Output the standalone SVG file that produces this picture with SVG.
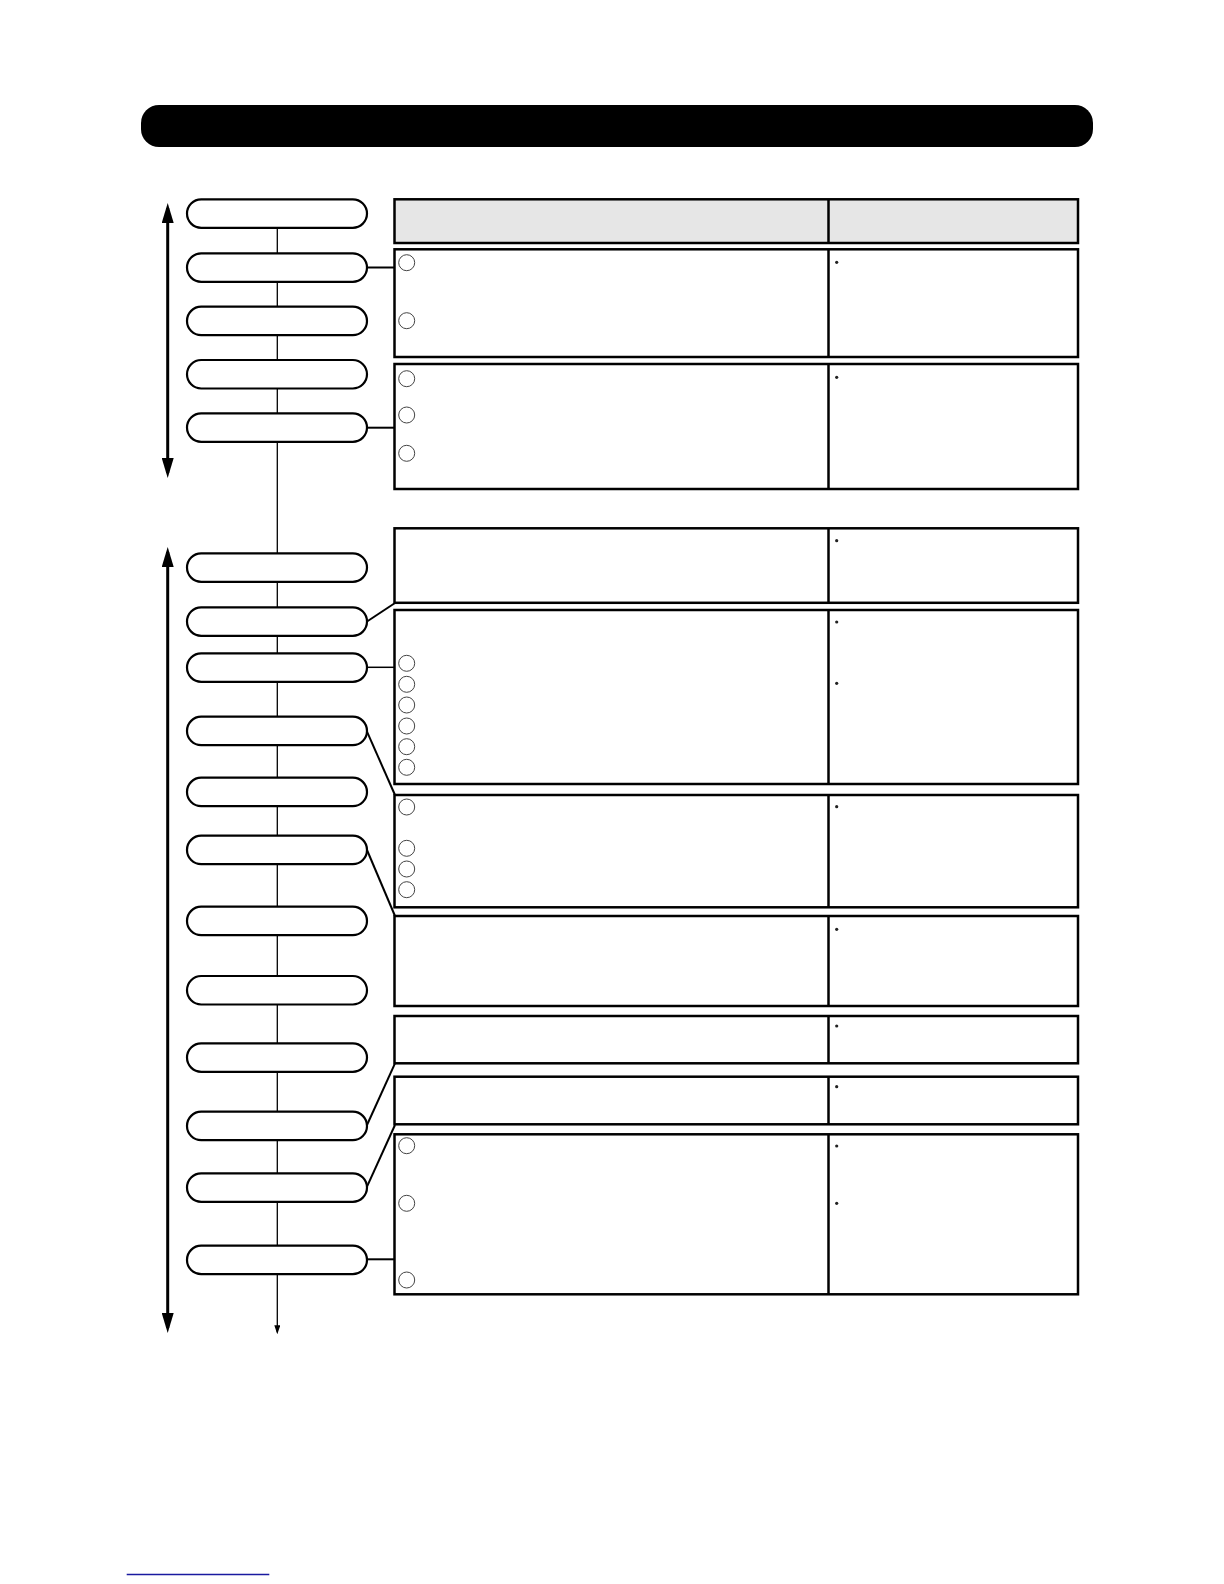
<svg xmlns="http://www.w3.org/2000/svg" width="1224" height="1584" viewBox="0 0 1224 1584">
<style>
.pill{fill:#fff;stroke:#000;stroke-width:2.2}
.box{fill:#fff;stroke:#000;stroke-width:2.5}
.hdr{fill:#e6e6e6;stroke:#000;stroke-width:2.5}
.div{stroke:#000;stroke-width:2.5}
.num{fill:#fff;stroke:#444;stroke-width:1}
.dot{fill:#222}
.flow{stroke:#000;stroke-width:1.3;fill:none}
.span{stroke:#000;stroke-width:3;fill:none}
.link{stroke:#000;stroke-width:2;fill:none}
.thin{stroke:#000;stroke-width:1.5;fill:none}
</style>
<defs>
<marker id="big" viewBox="0 0 20 12" refX="15" refY="6" markerWidth="20" markerHeight="12" markerUnits="userSpaceOnUse" orient="auto-start-reverse"><path d="M0,0 L20,6 L0,12 z" fill="#000"/></marker>
<marker id="small" viewBox="0 0 9 6" refX="7" refY="3" markerWidth="9" markerHeight="6" markerUnits="userSpaceOnUse" orient="auto"><path d="M0,0 L9,3 L0,6 z" fill="#000"/></marker>
</defs>
<rect width="1224" height="1584" fill="#fff"/>
<g id="title"><rect x="141" y="105" width="952" height="42" rx="18" fill="#000"/></g>
<g id="connectors">
<line class="span" x1="167.7" y1="208" x2="167.7" y2="473" marker-start="url(#big)" marker-end="url(#big)"/>
<line class="span" x1="167.7" y1="552" x2="167.7" y2="1328" marker-start="url(#big)" marker-end="url(#big)"/>
<line class="flow" x1="277.3" y1="213" x2="277.3" y2="1332.3" marker-end="url(#small)"/>
<line class="link" x1="367" y1="267.5" x2="394.5" y2="267.5"/>
<line class="link" x1="367" y1="427.7" x2="394.5" y2="427.7"/>
<line class="link" x1="367" y1="621.5" x2="395" y2="603"/>
<line class="thin" x1="367" y1="667.3" x2="394.5" y2="667.3"/>
<line class="link" x1="367" y1="731.7" x2="395" y2="795"/>
<line class="link" x1="367" y1="850" x2="395" y2="916"/>
<line class="link" x1="367" y1="1125" x2="395" y2="1063.3"/>
<line class="link" x1="367" y1="1186.7" x2="395" y2="1125"/>
<line class="link" x1="367" y1="1259.3" x2="394.5" y2="1259.3"/>
</g>
<g id="steps">
<rect id="s1" class="pill" x="187" y="199.3" width="180" height="28.5" rx="14.2"/>
<rect id="s2" class="pill" x="187" y="253.3" width="180" height="28.5" rx="14.2"/>
<rect id="s3" class="pill" x="187" y="306.7" width="180" height="28.5" rx="14.2"/>
<rect id="s4" class="pill" x="187" y="360" width="180" height="28.5" rx="14.2"/>
<rect id="s5" class="pill" x="187" y="413.3" width="180" height="28.5" rx="14.2"/>
<rect id="s6" class="pill" x="187" y="553.3" width="180" height="28.5" rx="14.2"/>
<rect id="s7" class="pill" x="187" y="607.3" width="180" height="28.5" rx="14.2"/>
<rect id="s8" class="pill" x="187" y="653.3" width="180" height="28.5" rx="14.2"/>
<rect id="s9" class="pill" x="187" y="716.7" width="180" height="28.5" rx="14.2"/>
<rect id="s10" class="pill" x="187" y="777.7" width="180" height="28.5" rx="14.2"/>
<rect id="s11" class="pill" x="187" y="835.7" width="180" height="28.5" rx="14.2"/>
<rect id="s12" class="pill" x="187" y="906.7" width="180" height="28.5" rx="14.2"/>
<rect id="s13" class="pill" x="187" y="976" width="180" height="28.5" rx="14.2"/>
<rect id="s14" class="pill" x="187" y="1043.3" width="180" height="28.5" rx="14.2"/>
<rect id="s15" class="pill" x="187" y="1111.7" width="180" height="28.5" rx="14.2"/>
<rect id="s16" class="pill" x="187" y="1173.3" width="180" height="28.5" rx="14.2"/>
<rect id="s17" class="pill" x="187" y="1245.7" width="180" height="28.5" rx="14.2"/>
</g>
<g id="header"><rect class="hdr" x="394.5" y="199.3" width="683.5" height="43.7"/><line class="div" x1="828.5" y1="199.3" x2="828.5" y2="243"/></g>
<g id="row1"><rect class="box" x="394.5" y="249.3" width="683.5" height="107.7"/><line class="div" x1="828.5" y1="249.3" x2="828.5" y2="357"/>
<circle class="num" cx="406.7" cy="262.7" r="8"/><circle class="num" cx="406.7" cy="320.7" r="8"/><circle class="dot" cx="836.7" cy="262.3" r="1.6"/></g>
<g id="row2"><rect class="box" x="394.5" y="364" width="683.5" height="125"/><line class="div" x1="828.5" y1="364" x2="828.5" y2="489"/>
<circle class="num" cx="406.7" cy="378.7" r="8"/><circle class="num" cx="406.7" cy="415" r="8"/><circle class="num" cx="406.7" cy="453.3" r="8"/><circle class="dot" cx="836.7" cy="377.3" r="1.6"/></g>
<g id="rowA"><rect class="box" x="394.5" y="528.3" width="683.5" height="74.5"/><line class="div" x1="828.5" y1="528.3" x2="828.5" y2="602.8"/>
<circle class="dot" cx="836.7" cy="540.7" r="1.6"/></g>
<g id="rowB"><rect class="box" x="394.5" y="610" width="683.5" height="174"/><line class="div" x1="828.5" y1="610" x2="828.5" y2="784"/>
<circle class="num" cx="406.7" cy="663.3" r="8"/><circle class="num" cx="406.7" cy="684.3" r="8"/><circle class="num" cx="406.7" cy="705" r="8"/><circle class="num" cx="406.7" cy="726" r="8"/><circle class="num" cx="406.7" cy="746.7" r="8"/><circle class="num" cx="406.7" cy="767.3" r="8"/>
<circle class="dot" cx="836.7" cy="622" r="1.6"/><circle class="dot" cx="836.7" cy="683.3" r="1.6"/></g>
<g id="rowC"><rect class="box" x="394.5" y="795" width="683.5" height="112.3"/><line class="div" x1="828.5" y1="795" x2="828.5" y2="907.3"/>
<circle class="num" cx="406.7" cy="807" r="8"/><circle class="num" cx="406.7" cy="848.3" r="8"/><circle class="num" cx="406.7" cy="869" r="8"/><circle class="num" cx="406.7" cy="889.7" r="8"/>
<circle class="dot" cx="836.7" cy="806.7" r="1.6"/></g>
<g id="rowD"><rect class="box" x="394.5" y="916" width="683.5" height="90"/><line class="div" x1="828.5" y1="916" x2="828.5" y2="1006"/>
<circle class="dot" cx="836.7" cy="929.3" r="1.6"/></g>
<g id="rowE"><rect class="box" x="394.5" y="1016" width="683.5" height="47.3"/><line class="div" x1="828.5" y1="1016" x2="828.5" y2="1063.3"/>
<circle class="dot" cx="836.7" cy="1026" r="1.6"/></g>
<g id="rowF"><rect class="box" x="394.5" y="1076.7" width="683.5" height="47.6"/><line class="div" x1="828.5" y1="1076.7" x2="828.5" y2="1124.3"/>
<circle class="dot" cx="836.7" cy="1086.7" r="1.6"/></g>
<g id="rowG"><rect class="box" x="394.5" y="1134.3" width="683.5" height="160"/><line class="div" x1="828.5" y1="1134.3" x2="828.5" y2="1294.3"/>
<circle class="num" cx="406.7" cy="1145.7" r="8"/><circle class="num" cx="406.7" cy="1203.3" r="8"/><circle class="num" cx="406.7" cy="1280" r="8"/>
<circle class="dot" cx="836.7" cy="1146" r="1.6"/><circle class="dot" cx="836.7" cy="1203.3" r="1.6"/></g>
<g id="footer"><line x1="126.7" y1="1574.5" x2="269.3" y2="1574.5" stroke="#1a1aa0" stroke-width="1.5"/></g>
</svg>
